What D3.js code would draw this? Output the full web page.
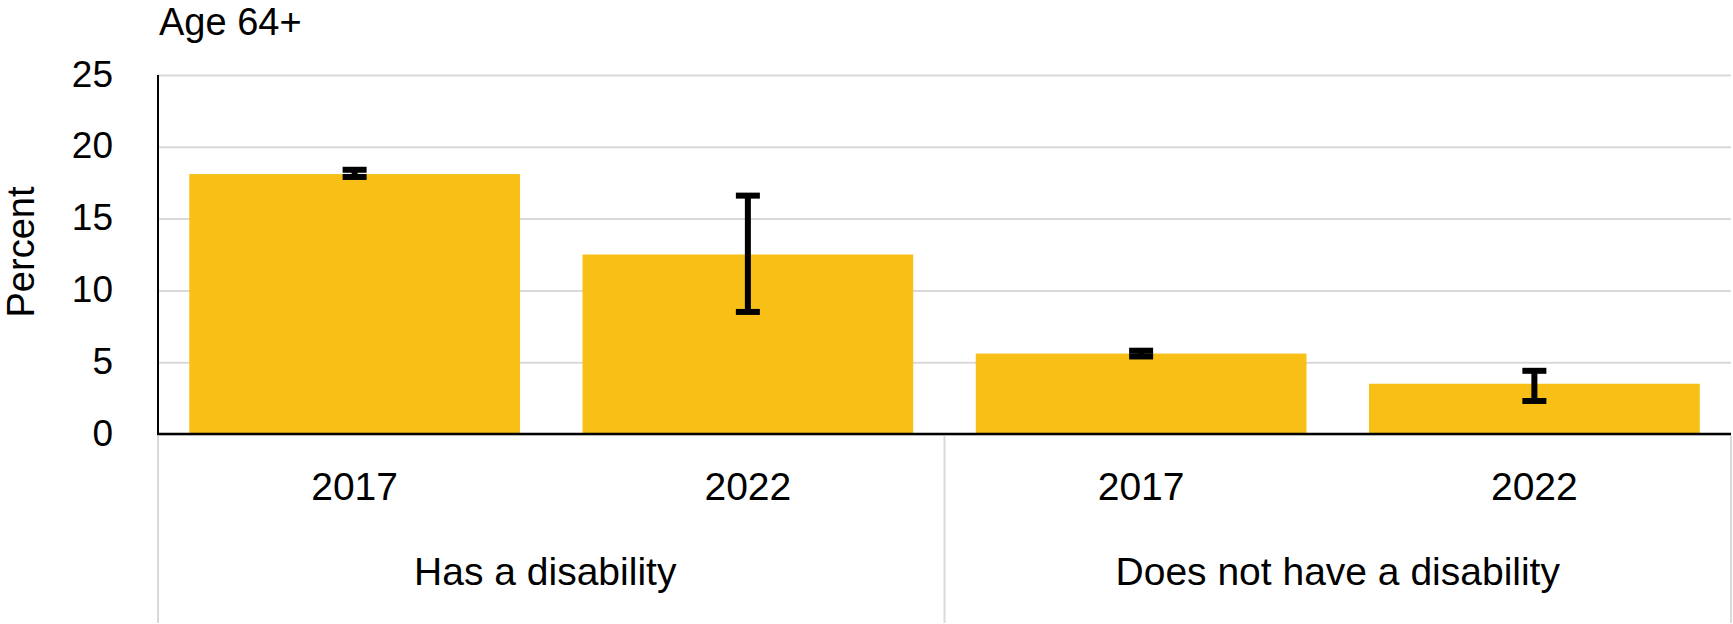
<!DOCTYPE html>
<html>
<head>
<meta charset="utf-8">
<script src="https://cdn.jsdelivr.net/npm/d3@7"></script>
<style>
  body { margin: 0; background: #fff; }
  text { font-family: Arial, "Liberation Sans", sans-serif; fill: #000; }
</style>
</head>
<body>
<div id="chart"></div>
<script>
'use strict';

// data
var groups = ['Has a disability', 'Does not have a disability'];
var years = ['2017', '2022', '2017', '2022'];
var values = [18.1, 12.5, 5.6, 3.5];
var lower = [17.9, 8.5, 5.4, 2.3];
var upper = [18.4, 16.6, 5.8, 4.4];
var yTicks = [0, 5, 10, 15, 20, 25];

var chart = {};
chart.w = 1733;
chart.h = 624;
chart.left = 158;
chart.right = 1731;
chart.top = 75;
chart.bottom = 434;
chart.barColor = '#f8bf16';
chart.gridColor = '#d9d9d9';

var svg = d3.select('#chart').append('svg')
    .attr('width', chart.w)
    .attr('height', chart.h);

var xScale = d3.scaleBand()
    .domain(d3.range(values.length))
    .range([chart.left, chart.right])
    .paddingInner(0.159)
    .paddingOuter(0.0795);

var yScale = d3.scaleLinear()
    .domain([0, 25])
    .range([chart.bottom, chart.top]);

// y axis with gridlines
var yAxis = d3.axisLeft(yScale)
    .tickValues(yTicks)
    .tickSizeInner(-(chart.right - chart.left))
    .tickSizeOuter(0)
    .tickPadding(45);

var yAxisGroup = svg.append('g')
    .attr('class', 'yAxis')
    .attr('transform', 'translate(' + chart.left + ',0)')
    .call(yAxis);
yAxisGroup.select('.domain').remove();
yAxisGroup.selectAll('line')
    .attr('stroke', chart.gridColor)
    .attr('stroke-width', 2);
yAxisGroup.selectAll('text')
    .style('font-size', '37px')
    .attr('dy', '0.3em');

// bars
svg.append('g').selectAll('rect')
    .data(values)
    .enter()
    .append('rect')
    .attr('x', function(d, i){ return xScale(i); })
    .attr('y', function(d){ return yScale(d); })
    .attr('width', xScale.bandwidth())
    .attr('height', function(d){ return yScale(0) - yScale(d); })
    .attr('fill', chart.barColor);

// axis lines
svg.append('line')
    .attr('x1', chart.left).attr('x2', chart.left)
    .attr('y1', yScale(25)).attr('y2', yScale(0))
    .attr('stroke', '#000').attr('stroke-width', 2);
svg.append('line')
    .attr('x1', chart.left - 1).attr('x2', chart.right)
    .attr('y1', yScale(0)).attr('y2', yScale(0))
    .attr('stroke', '#000').attr('stroke-width', 2.5);

// error bars
var errG = svg.append('g').attr('class', 'errors');
var capW = 24;
values.forEach(function(v, i){
    var cx = xScale(i) + xScale.bandwidth() / 2;
    errG.append('line')
        .attr('x1', cx).attr('x2', cx)
        .attr('y1', yScale(upper[i])).attr('y2', yScale(lower[i]))
        .attr('stroke', '#000').attr('stroke-width', 6);
    [upper[i], lower[i]].forEach(function(e){
        errG.append('line')
            .attr('x1', cx - capW / 2).attr('x2', cx + capW / 2)
            .attr('y1', yScale(e)).attr('y2', yScale(e))
            .attr('stroke', '#000').attr('stroke-width', 6);
    });
});

// category separators
var step = xScale.step();
var seps = [chart.left, xScale(1) + xScale.bandwidth() + step * xScale.paddingInner() / 2, chart.right];
svg.append('g').selectAll('line')
    .data(seps)
    .enter()
    .append('line')
    .attr('x1', function(d){ return d; })
    .attr('x2', function(d){ return d; })
    .attr('y1', chart.bottom + 2)
    .attr('y2', 623)
    .attr('stroke', chart.gridColor)
    .attr('stroke-width', 2);

// year labels
svg.append('g').selectAll('text')
    .data(years)
    .enter()
    .append('text')
    .attr('x', function(d, i){ return xScale(i) + xScale.bandwidth() / 2; })
    .attr('y', 500)
    .attr('text-anchor', 'middle')
    .style('font-size', '39px')
    .text(function(d){ return d; });

// group labels
svg.append('g').selectAll('text')
    .data(groups)
    .enter()
    .append('text')
    .attr('x', function(d, g){ return (seps[g] + seps[g + 1]) / 2 - (g === 0 ? 6 : 0); })
    .attr('y', 585)
    .attr('text-anchor', 'middle')
    .style('font-size', '39px')
    .text(function(d){ return d; });

// title and y label
svg.append('text')
    .attr('x', 159)
    .attr('y', 35)
    .style('font-size', '38px')
    .text('Age 64+');

svg.append('text')
    .attr('transform', 'translate(34,252) rotate(-90)')
    .attr('text-anchor', 'middle')
    .style('font-size', '38px')
    .text('Percent');
</script>
</body>
</html>
